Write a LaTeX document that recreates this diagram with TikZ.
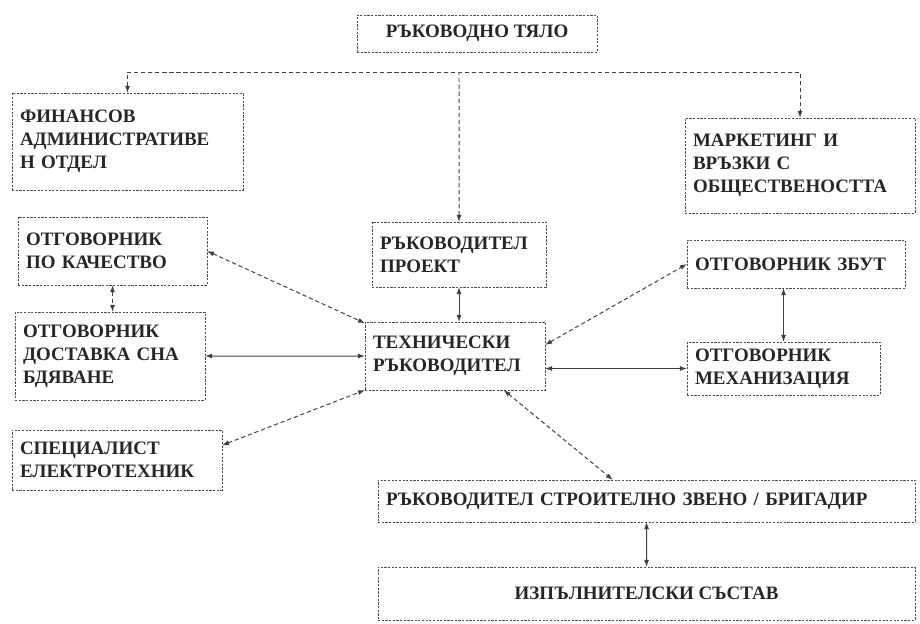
\documentclass[tikz,border=0pt]{standalone}
\usepackage{fontspec}
\setmainfont{Liberation Serif}
\usetikzlibrary{arrows.meta}
\begin{document}
\begin{tikzpicture}[x=0.025cm,y=-0.025cm]
\tikzset{unit/.style = {shape=rectangle,draw=black!70,line width=0.6pt,dash pattern=on 1.6pt off 1pt,
  anchor=north west,align=left,inner xsep=0.2cm,inner ysep=0.1cm,outer sep=0pt,
  text=black!85,font=\bfseries\fontsize{13.5}{16.5}\selectfont}}
\tikzset{link/.style = {black!75,line width=0.7pt,<->,> = {Latex[length=5pt,width=3.5pt]}}}
\tikzset{dlink/.style = {link,dash pattern=on 3pt off 2pt}}
\useasboundingbox (0,0) rectangle (920,624);
% governing body and the two departments under it
\node[unit,align=center,minimum width=6cm,minimum height=0.925cm] (body) at (357,15) {РЪКОВОДНО ТЯЛО};
\node[unit,text width=5.375cm,minimum height=2.425cm] (fin) at (12,93) {ФИНАНСОВ\\АДМИНИСТРАТИВЕ\\Н ОТДЕЛ};
\node[unit,text width=5.35cm,minimum height=2.375cm] (mkt) at (685,118) {МАРКЕТИНГ И\\ВРЪЗКИ С\\ОБЩЕСТВЕНОСТТА};
% units on the left
\node[unit,text width=4.325cm,minimum height=1.7cm] (quality) at (18,217) {ОТГОВОРНИК\\ПО КАЧЕСТВО};
\node[unit,text width=4.35cm,minimum height=2.2cm] (supply) at (15,312) {ОТГОВОРНИК\\ДОСТАВКА СНА\\БДЯВАНЕ};
\node[unit,text width=4.85cm,minimum height=1.5cm] (elec) at (12,430) {СПЕЦИАЛИСТ\\ЕЛЕКТРОТЕХНИК};
% units in the middle
\node[unit,text width=3.95cm,minimum height=1.625cm] (proj) at (372,222) {РЪКОВОДИТЕЛ\\ПРОЕКТ};
\node[unit,text width=4.1cm,minimum height=1.7cm] (tech) at (365,322) {ТЕХНИЧЕСКИ\\РЪКОВОДИТЕЛ};
% units on the right
\node[unit,text width=5.05cm,minimum height=1.2cm] (zbut) at (687,240) {ОТГОВОРНИК ЗБУТ};
\node[unit,text width=4.425cm,minimum height=1.325cm] (mech) at (687,342) {ОТГОВОРНИК\\МЕХАНИЗАЦИЯ};
% units at the bottom
\node[unit,text width=13.025cm,minimum height=1.05cm] (foreman) at (378,480) {РЪКОВОДИТЕЛ СТРОИТЕЛНО ЗВЕНО / БРИГАДИР};
\node[unit,align=center,minimum width=13.425cm,minimum height=1.325cm] (crew) at (378,567) {ИЗПЪЛНИТЕЛСКИ СЪСТАВ};
% branches from the governing body
\coordinate (hub) at (459,72);
\draw[dlink] (fin.north) |- (hub) -| (mkt.north);
\draw[dlink,<-] (proj.north) -- (hub);
% links of the technical manager
\draw[link] (proj.south) -- (proj.south |- tech.north);
\draw[dlink] (quality.east) -- (tech.160);
\draw[dlink] (quality.south) -- (quality.south |- supply.north);
\draw[link] (supply.east) -- (tech.west);
\draw[dlink] (elec.8) -- (tech.south west);
\draw[dlink] (tech.-35) -- (foreman.148);
\draw[dlink] (tech.7) -- (zbut.west);
\draw[link] (mech.west -| tech.east) -- (mech.west);
\draw[link] (mech.north) -- (mech.north |- zbut.south);
\draw[link] (foreman.south) -- (crew.north);
\end{tikzpicture}
\end{document}
